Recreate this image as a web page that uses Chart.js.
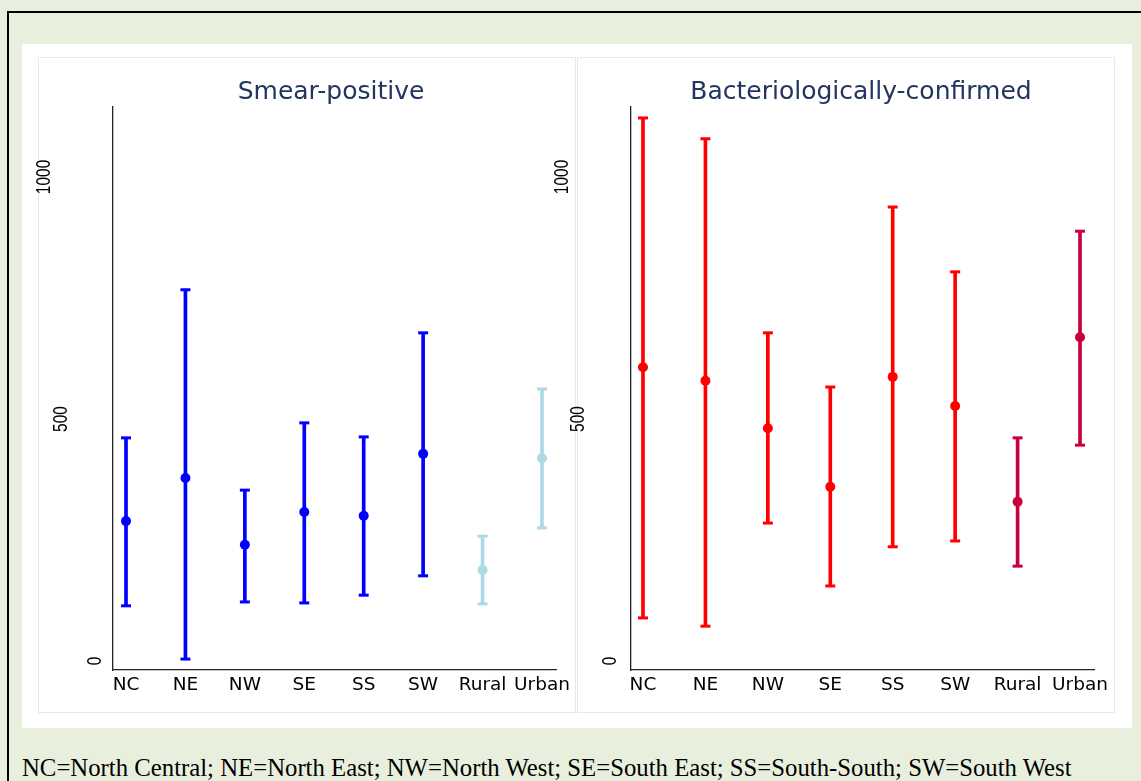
<!DOCTYPE html>
<html><head><meta charset="utf-8">
<script src="https://cdn.jsdelivr.net/npm/chart.js@4.4.1/dist/chart.umd.min.js"></script>
<style>
html,body{margin:0;padding:0;width:1141px;height:781px;overflow:hidden;background:#e8f0dd;}
#frame{position:absolute;left:7px;top:11px;width:1200px;height:900px;border-left:2px solid #000;border-top:2px solid #000;box-sizing:border-box;}
#white{position:absolute;left:22px;top:44px;width:1110px;height:684px;background:#fff;}
.panel{position:absolute;top:57px;height:656px;border:1px solid #e0edef;box-sizing:border-box;}
#p1{left:38px;width:538px;} #p2{left:577px;width:538px;}
.cv{position:absolute;top:44px;}
#c1{left:22px;} #c2{left:550px;}
.title{position:absolute;top:78px;font-family:"DejaVu Sans";font-size:25px;line-height:1;color:#22355f;transform:translateX(-50%);white-space:nowrap;}
#foot{position:absolute;left:22px;top:756px;font-family:"Liberation Serif";font-size:24.75px;line-height:1;white-space:nowrap;color:#000;}
</style></head>
<body>
<div id="frame"></div>
<div id="white"></div>
<div class="panel" id="p1"></div>
<div class="panel" id="p2"></div>
<canvas class="cv" id="c1" width="554" height="684"></canvas>
<canvas class="cv" id="c2" width="582" height="684"></canvas>
<div class="title" style="left:331px">Smear-positive</div>
<div class="title" style="left:861px">Bacteriologically-confirmed</div>
<div id="foot">NC=North Central; NE=North East; NW=North West; SE=South East; SS=South-South; SW=South West</div>
<script>
const categories = ['NC','NE','NW','SE','SS','SW','Rural','Urban'];
const yTicks = [0, 500, 1000];

const smearEst  = [289, 378, 240, 308, 300, 428, 188, 419];
const smearLow  = [114,   4, 122, 120, 136, 176, 118, 275];
const smearHigh = [461, 767, 353, 492, 463, 678, 258, 562];

const bactEst  = [607,  579, 481, 360, 587, 527, 329, 669];
const bactLow  = [ 89,   72, 285, 155, 236, 248, 196, 446];
const bactHigh = [1122, 1079, 678, 566, 938, 804, 461, 888];

const smearColors = ['#0000ff','#0000ff','#0000ff','#0000ff','#0000ff','#0000ff','#add8e6','#add8e6'];
const bactColors  = ['#ff0000','#ff0000','#ff0000','#ff0000','#ff0000','#ff0000','#c8003c','#c8003c'];

const yLabelPlugin = {
  id: 'yLabels',
  afterDraw(chart, args, opts) {
    const ctx = chart.ctx, ys = chart.scales.y;
    ctx.save();
    ctx.fillStyle = '#000';
    ctx.font = '15.5px "Liberation Sans"';
    ctx.textAlign = 'center';
    ctx.textBaseline = 'middle';
    opts.values.forEach((v, i) => {
      ctx.save();
      ctx.translate(opts.xs[i], ys.getPixelForValue(v));
      ctx.rotate(-Math.PI / 2);
      ctx.scale(1, 1.25);
      ctx.fillText(String(v), 0, 0);
      ctx.restore();
    });
    ctx.restore();
  }
};

function build(id, est, low, high, colors, xmin, xmax, padLeft, padRight, labelXs) {
  const bars = categories.map((c, i) => ({x: i + 1, y: [low[i], high[i]]}));
  const caps = [], capColors = [];
  categories.forEach((c, i) => {
    caps.push({x: i + 1, y: low[i]}); capColors.push(colors[i]);
    caps.push({x: i + 1, y: high[i]}); capColors.push(colors[i]);
  });
  const pts = categories.map((c, i) => ({x: i + 1, y: est[i]}));
  const axisBorder = {display: true, color: '#222', width: 1.3};
  new Chart(document.getElementById(id), {
    type: 'bar',
    data: {datasets: [
      {type: 'bar', data: bars, backgroundColor: colors, borderWidth: 0, barThickness: 3, order: 3},
      {type: 'scatter', data: caps, pointStyle: 'line', pointRadius: 5, pointBorderWidth: 3,
       pointBorderColor: capColors, pointBackgroundColor: capColors, order: 2},
      {type: 'scatter', data: pts, pointRadius: 5, pointBackgroundColor: colors, pointBorderWidth: 0, order: 1}
    ]},
    options: {
      responsive: false, animation: false, events: [],
      layout: {padding: {left: padLeft, right: padRight, top: 63, bottom: 0}},
      plugins: {legend: {display: false}, tooltip: {enabled: false}, title: {display: false},
                yLabels: {values: yTicks, xs: labelXs}},
      scales: {
        x: {type: 'linear', offset: false, min: xmin, max: xmax,
            grid: {display: false, drawTicks: false}, border: axisBorder,
            afterBuildTicks: s => { s.ticks = categories.map((c, i) => ({value: i + 1})); },
            ticks: {autoSkip: false, maxRotation: 0, minRotation: 0, padding: 4, color: '#000',
                    font: {family: 'DejaVu Sans', size: 18.5},
                    callback: v => categories[Math.round(v) - 1]},
            afterFit: s => { s.height = 58; }},
        y: {type: 'linear', min: -18.6, max: 1144.6,
            grid: {display: false, drawTicks: false}, border: axisBorder,
            ticks: {display: false},
            afterBuildTicks: s => { s.ticks = yTicks.map(v => ({value: v})); },
            afterFit: s => { s.width = 0; }}
      }
    },
    plugins: [yLabelPlugin]
  });
}

build('c1', smearEst, smearLow, smearHigh, smearColors, 0.781, 8.236, 91, 20, [74, 40, 23]);
build('c2', bactEst, bactLow, bactHigh, bactColors, 0.808, 8.224, 81, 38, [61, 29, 13]);
</script>
</body></html>
